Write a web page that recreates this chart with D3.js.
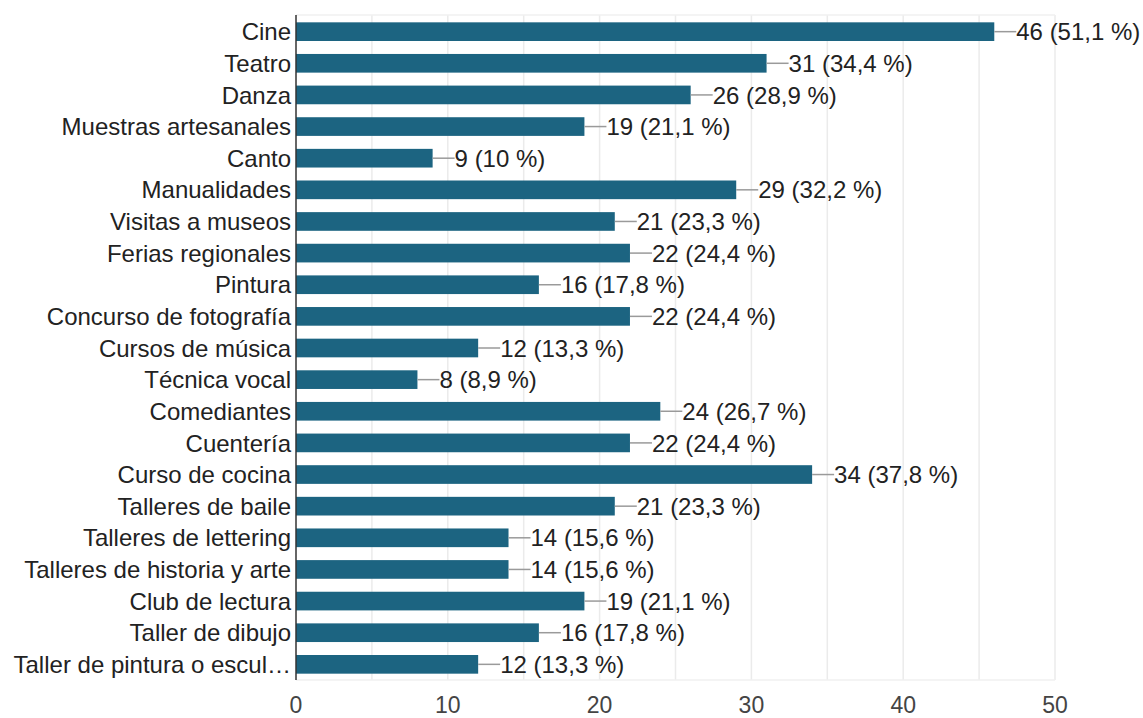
<!DOCTYPE html>
<html>
<head>
<meta charset="utf-8">
<script src="https://cdn.jsdelivr.net/npm/d3@7"></script>
<style>
  html, body { margin: 0; padding: 0; background: #fff; }
  svg { display: block; font-family: Arial, "Liberation Sans", sans-serif; }
</style>
</head>
<body>
<svg id="chart" width="1143" height="718"></svg>
<script>
const categories = [
  "Cine", "Teatro", "Danza", "Muestras artesanales", "Canto", "Manualidades",
  "Visitas a museos", "Ferias regionales", "Pintura", "Concurso de fotografía",
  "Cursos de música", "Técnica vocal", "Comediantes", "Cuentería",
  "Curso de cocina", "Talleres de baile", "Talleres de lettering",
  "Talleres de historia y arte", "Club de lectura", "Taller de dibujo",
  "Taller de pintura o escul…"
];
const counts = [46, 31, 26, 19, 9, 29, 21, 22, 16, 22, 12, 8, 24, 22, 34, 21, 14, 14, 19, 16, 12];
const percents = ["51,1", "34,4", "28,9", "21,1", "10", "32,2", "23,3", "24,4", "17,8", "24,4",
                  "13,3", "8,9", "26,7", "24,4", "37,8", "23,3", "15,6", "15,6", "21,1", "17,8", "13,3"];
const xTicks = [0, 10, 20, 30, 40, 50];
const gridValues = [5, 10, 15, 20, 25, 30, 35, 40, 45, 50];

const rows = categories.map((c, i) => ({ name: c, value: counts[i], pct: percents[i] }));

const svg = d3.select("#chart");
const plotLeft = 296, plotRight = 1055, plotTop = 15, plotBottom = 680;
const fontSize = 24;

const x = d3.scaleLinear().domain([0, 50]).range([plotLeft, plotRight]);
const y = d3.scaleBand().domain(categories).range([plotTop + 1, plotBottom]).paddingInner(0.41).paddingOuter(0.2);

// vertical gridlines
svg.append("g").selectAll("line").data(gridValues).join("line")
  .attr("x1", d => x(d)).attr("x2", d => x(d))
  .attr("y1", plotTop).attr("y2", plotBottom)
  .attr("stroke", "#ebebeb").attr("stroke-width", 1.5);

// faint frame lines at top and bottom of the plot area
svg.append("g").selectAll("line").data([plotTop, plotBottom]).join("line")
  .attr("x1", plotLeft).attr("x2", plotRight)
  .attr("y1", d => d).attr("y2", d => d)
  .attr("stroke", "#f0f0f0").attr("stroke-width", 1.5);

// bars
svg.append("g").selectAll("rect").data(rows).join("rect")
  .attr("x", x(0))
  .attr("y", d => y(d.name))
  .attr("width", d => x(d.value) - x(0))
  .attr("height", y.bandwidth())
  .attr("fill", "#1c6481");

// leader lines to value labels
svg.append("g").selectAll("line").data(rows).join("line")
  .attr("x1", d => x(d.value)).attr("x2", d => x(d.value) + 22)
  .attr("y1", d => y(d.name) + y.bandwidth() / 2)
  .attr("y2", d => y(d.name) + y.bandwidth() / 2)
  .attr("stroke", "#9a9a9a").attr("stroke-width", 1.5);

// value labels
svg.append("g").selectAll("text").data(rows).join("text")
  .attr("x", d => x(d.value) + 22)
  .attr("y", d => y(d.name) + y.bandwidth() / 2)
  .attr("dy", "0.36em")
  .attr("font-size", fontSize)
  .attr("fill", "#222")
  .text(d => `${d.value} (${d.pct} %)`);

// category labels
svg.append("g").selectAll("text").data(rows).join("text")
  .attr("x", plotLeft - 5)
  .attr("y", d => y(d.name) + y.bandwidth() / 2)
  .attr("dy", "0.36em")
  .attr("text-anchor", "end")
  .attr("font-size", fontSize)
  .attr("fill", "#222")
  .text(d => d.name);

// baseline axis
svg.append("line")
  .attr("x1", x(0)).attr("x2", x(0))
  .attr("y1", plotTop).attr("y2", plotBottom)
  .attr("stroke", "#333").attr("stroke-width", 1.5);

// x tick labels
svg.append("g").selectAll("text").data(xTicks).join("text")
  .attr("x", d => x(d))
  .attr("y", 713)
  .attr("text-anchor", "middle")
  .attr("font-size", 23)
  .attr("fill", "#444")
  .text(d => d);
</script>
</body>
</html>
